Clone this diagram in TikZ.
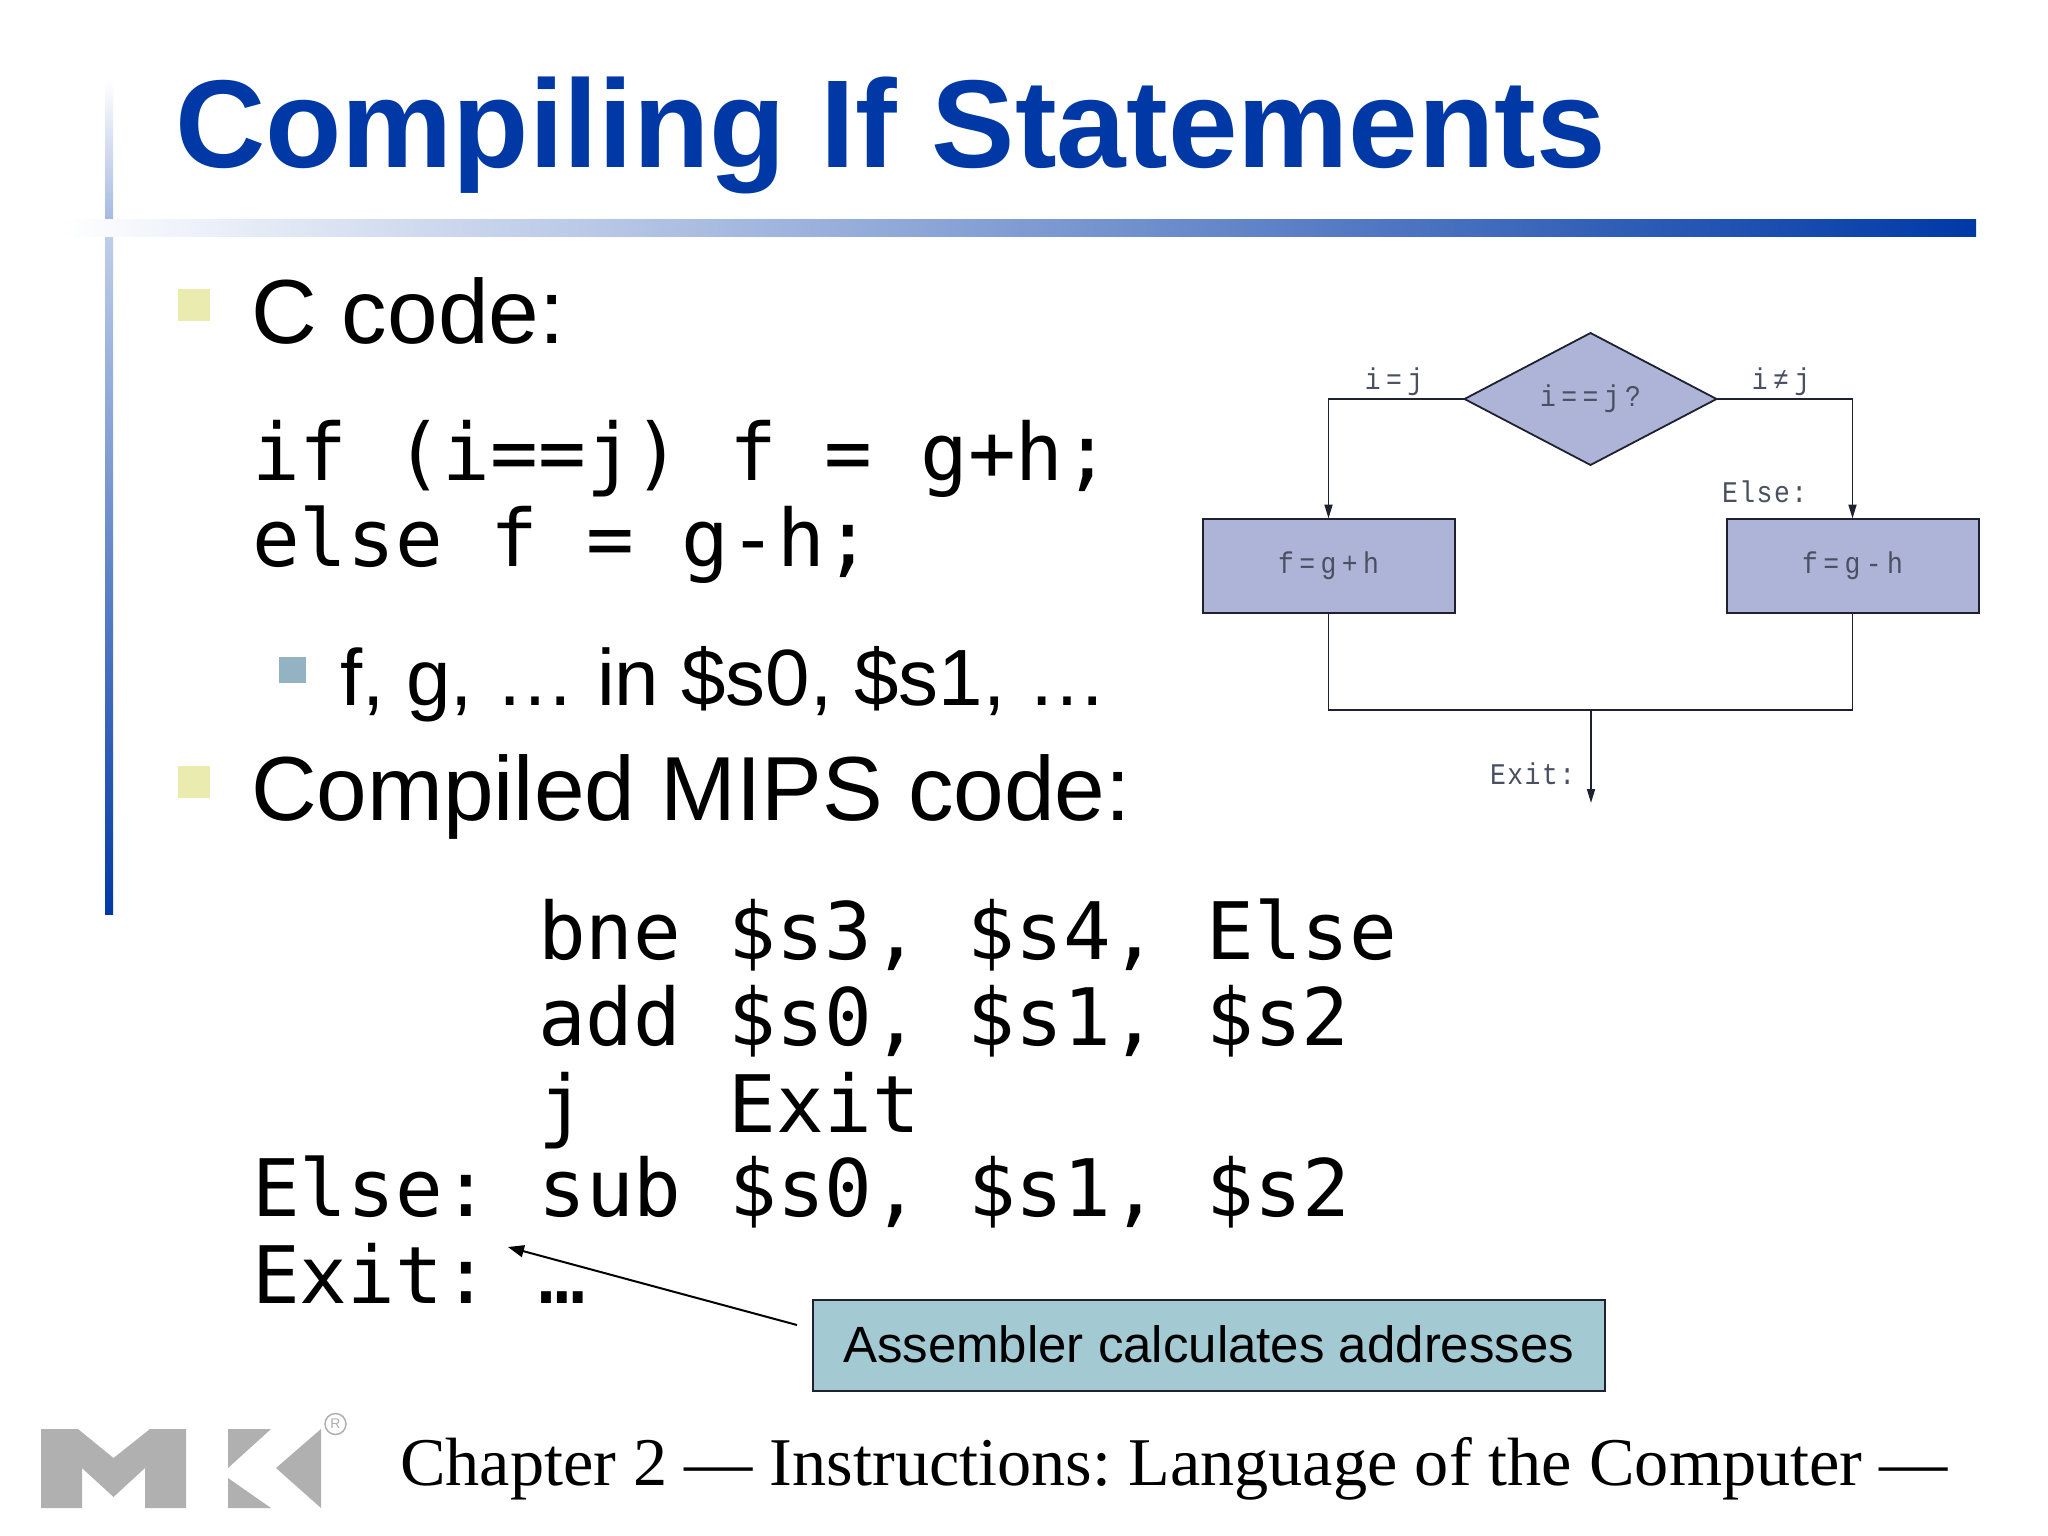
\documentclass[tikz,border=0pt]{standalone}
\usepackage{fontspec}
\setmainfont{Liberation Sans}
\newfontfamily\codefont{DejaVu Sans Mono}
\newfontfamily\footfont{Liberation Serif}
\newfontfamily\figfont[LetterSpace=5,FakeStretch=0.88]{Liberation Mono}
\newfontfamily\exprfont[LetterSpace=18,FakeStretch=0.88]{Liberation Mono}
\usetikzlibrary{shapes.geometric,arrows.meta}
\definecolor{titleblue}{HTML}{0039A6}
\definecolor{barblue}{HTML}{0039A6}
\definecolor{bulyellow}{HTML}{E9ECAE}
\definecolor{bulteal}{HTML}{93B3C2}
\definecolor{figfill}{HTML}{AEB4D8}
\definecolor{callfill}{HTML}{A3C9D3}
\definecolor{logogray}{HTML}{B0B0B0}
\definecolor{figtext}{HTML}{4A4F62}
\definecolor{figline}{HTML}{1E2230}
\tikzset{
  every node/.style={inner sep=0pt,outer sep=0pt},
  titletext/.style={anchor=base west,text=titleblue,font=\fontsize{125}{125}\selectfont\bfseries},
  bigtext/.style={anchor=base west,font=\fontsize{91}{91}\selectfont},
  subtext/.style={anchor=base west,font=\fontsize{79.8}{79.8}\selectfont},
  codetext/.style={anchor=base west,font=\fontsize{79.3}{79.3}\selectfont\codefont},
  footertext/.style={anchor=base west,font=\fontsize{68.3}{68.3}\selectfont\footfont},
  figlabel/.style={text=figtext,font=\fontsize{30}{30}\selectfont\figfont},
  figexpr/.style={text=figtext,font=\fontsize{30}{30}\selectfont\exprfont},
  figbox/.style={draw=figline,fill=figfill,line width=2pt,minimum width=252pt,minimum height=94pt,figexpr},
  figdiamond/.style={diamond,aspect=1.9,draw=figline,fill=figfill,line width=1.8pt,minimum width=252pt,minimum height=132pt,figexpr},
  figwire/.style={draw=figline,line width=1.8pt},
  figarrow/.style={figwire,-{Triangle[length=14pt,width=8pt]}},
  bulsq/.style={fill=bulyellow},
  logo/.style={fill=logogray},
}
\frenchspacing
\begin{document}
\begin{tikzpicture}[x=1pt,y=-1pt]
\path[use as bounding box,fill=white] (0,0) rectangle (2048,1536);
% gradient rules
\shade[top color=white,bottom color=barblue!35!white] (105,80) rectangle (113,218);
\shade[top color=barblue!25!white,bottom color=barblue] (105,236) rectangle (113,914);
\shade[left color=white,right color=barblue] (60,219) rectangle (1976,236);
% title
\node[titletext] (title) at (175,167.5) {Compiling If Statements};
% bullets and text
\fill[bulsq] (178,289) rectangle (210,321);
\node[bigtext] (ccode) at (251,343) {C code:};
\node[codetext] (c1) at (252,480) {if (i==j) f = g+h;};
\node[codetext] (c2) at (252,566) {else f = g-h;};
\fill[bulteal] (279,657) rectangle (306,683);
\node[subtext] (regs) at (340,705) {f, g, … in \$s0, \$s1, …};
\fill[bulsq] (178,766) rectangle (210,798);
\node[bigtext] (mips) at (251,820) {Compiled MIPS code:};
\node[codetext] (m1) at (538,959) {bne \$s3, \$s4, Else};
\node[codetext] (m2) at (538,1045) {add \$s0, \$s1, \$s2};
\node[codetext] (m3) at (538,1132) {j~~~Exit};
\node[codetext] (m4) at (252,1216) {Else: sub \$s0, \$s1, \$s2};
\node[codetext] (m5) at (252,1303) {Exit: …};
% flowchart
\node[figdiamond] (test) at (1590.5,399) {i==j?};
\node[figbox] (thenb) at (1328.5,565.5) {f=g+h};
\node[figbox] (elseb) at (1852.5,565.5) {f=g-h};
\coordinate (tl) at (1328.5,399);
\coordinate (tr) at (1852.5,399);
\coordinate (bl) at (1328.5,710);
\coordinate (br) at (1852.5,710);
\coordinate (bm) at (1591,710);
\coordinate (ex) at (1591,803);
\draw[figarrow] (test.west) -- (tl) -- (thenb.north);
\draw[figarrow] (test.east) -- (tr) -- (elseb.north);
\draw[figwire] (thenb.south) -- (bl) -- (br) -- (elseb.south);
\draw[figarrow] (bm) -- (ex);
\node[figexpr,anchor=base] (leq) at (1394,389) {i=j};
\node[figexpr,anchor=base] (lne) at (1781,389) {i≠j};
\node[figlabel,anchor=base west] (lelse) at (1722,502) {Else:};
\node[figlabel,anchor=base west] (lexit) at (1490,784) {Exit:};
% callout
\node[draw=figline,fill=callfill,line width=2pt,minimum width=792pt,minimum height=91pt,anchor=north west] (call) at (813,1300) {};
\node[anchor=base west,font=\fontsize{51}{51}\selectfont] (calltext) at (843,1362) {Assembler calculates addresses};
\coordinate (callend) at (797,1325);
\coordinate (exittip) at (508,1247);
\draw[line width=2pt,-{Triangle[length=16pt,width=12pt]}] (callend) -- (exittip);
% footer
\fill[logo] (41,1429) -- (78,1429) -- (113.5,1458) -- (150,1429) -- (186,1429) -- (186,1508) -- (145,1508) -- (145,1468) -- (113.5,1497) -- (82,1468) -- (82,1508) -- (41,1508) -- cycle;
\fill[logo] (228,1429) -- (271,1429) -- (228,1468) -- cycle;
\fill[logo] (228,1478) -- (271,1508) -- (228,1508) -- cycle;
\fill[logo] (321,1429) -- (276,1468) -- (321,1508) -- cycle;
\node[circle,draw=logogray,line width=1.5pt,minimum size=21pt,text=logogray,font=\fontsize{14}{14}\selectfont] (reg) at (335.5,1424) {R};
\node[footertext] (foot) at (400,1485) {Chapter 2 — Instructions: Language of the Computer —};
\end{tikzpicture}
\end{document}
